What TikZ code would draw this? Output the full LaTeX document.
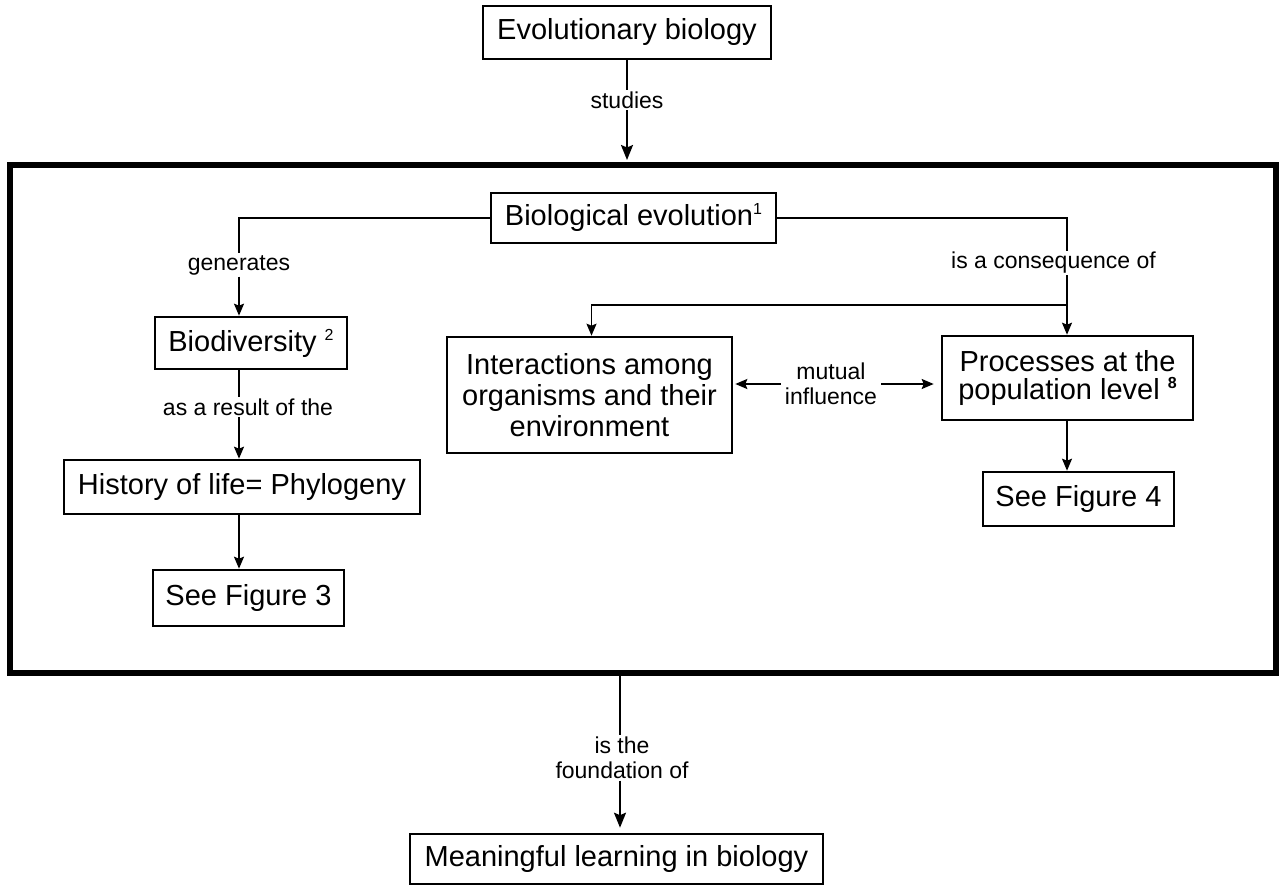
\documentclass[tikz,border=0pt]{standalone}
\usepackage{fontspec}
\setmainfont{Liberation Sans}
\usetikzlibrary{arrows.meta}

\newcommand{\supnum}[1]{\raisebox{11pt}{\fontsize{16}{16}\selectfont #1}}

\begin{document}
\begin{tikzpicture}[x=1pt, y=-1pt,
    box/.style={draw, rectangle, line width=2.6pt, inner sep=0pt, align=center, font=\fontsize{29}{30}\selectfont},
    rel/.style={inner sep=1.5pt, align=center, font=\fontsize{23}{25}\selectfont},
    line/.style={line width=1.8pt},
    link/.style={line width=1.8pt, -{Stealth[length=12pt, width=10pt, inset=2pt]}},
    biglink/.style={line width=2pt, -{Stealth[length=15pt, width=12pt, inset=2.5pt]}}]
    \useasboundingbox (0,0) rectangle (1279,886);

    \draw [line width=5.5pt] (10,165) rectangle (1276,673);
    \coordinate (frametop) at (627,163);
    \coordinate (framebot) at (620,676);
    \coordinate (lc) at (239,0);
    \coordinate (split) at (1067,305);

    \node [box, minimum width=288pt, minimum height=53pt] (evo) at (627,32.5) {Evolutionary biology};
    \node [box, minimum width=285pt, minimum height=50pt] (bioevo) at (633.5,218) {Biological evolution\supnum{1}};

    \node [box, minimum width=192pt, minimum height=52pt] (biodiv) at (251,343) {Biodiversity \supnum{2}};
    \node [box, minimum width=356pt, minimum height=54pt] (history) at (242,487) {History of life= Phylogeny};
    \node [box, minimum width=191pt, minimum height=56pt] (fig3) at (248.5,598) {See Figure 3};

    \node [box, minimum width=285pt, minimum height=116pt, font=\fontsize{29}{31}\selectfont] (inter) at (589.5,395) {Interactions among\\organisms and their\\environment};
    \node [box, minimum width=251pt, minimum height=84pt, font=\fontsize{29}{28}\selectfont] (proc) at (1067.5,378) {Processes at the\\population level \supnum{\bfseries 8}};
    \node [box, minimum width=191pt, minimum height=54pt] (fig4) at (1078.5,499) {See Figure 4};

    \node [box, minimum width=413pt, minimum height=50pt] (learn) at (616.5,859) {Meaningful learning in biology};

    \node [rel] (studies) at (627,100) {studies};
    \node [rel] (gen) at (239,265) {generates};
    \node [rel] (result) at (248,407) {as a result of the};
    \node [rel] (cons) at (1053.5,263) {is a consequence of};
    \node [rel, inner xsep=4pt] (mut) at (831,384) {mutual\\influence};
    \node [rel] (found) at (622,758) {is the\\foundation of};

    \draw [line] (evo.south) -- (studies.north);
    \draw [biglink, shorten >=3pt] (studies.south) -- (frametop);

    \draw [line] (bioevo.west) -| (gen.north);
    \draw [link] (gen.south) -- (biodiv.north -| lc);
    \draw [line] (biodiv.south -| lc) -- (result.north -| lc);
    \draw [link] (result.south -| lc) -- (history.north -| lc);
    \draw [link] (history.south -| lc) -- (fig3.north -| lc);

    \draw [line] (bioevo.east) -| (cons.north -| split);
    \draw [link] (cons.south -| split) -- (proc.north -| split);
    \draw [link] (split) -| ([xshift=2pt]inter.north);
    \draw [link, shorten >=2pt] (mut.west) -- (mut.west -| inter.east);
    \draw [link, shorten >=7pt] (mut.east) -- (mut.east -| proc.west);
    \draw [link] (proc.south -| split) -- (fig4.north -| split);

    \draw [line] (framebot) -- (found.north -| framebot);
    \draw [biglink, shorten >=5pt] (found.south -| framebot) -- (learn.north -| framebot);
\end{tikzpicture}
\end{document}
